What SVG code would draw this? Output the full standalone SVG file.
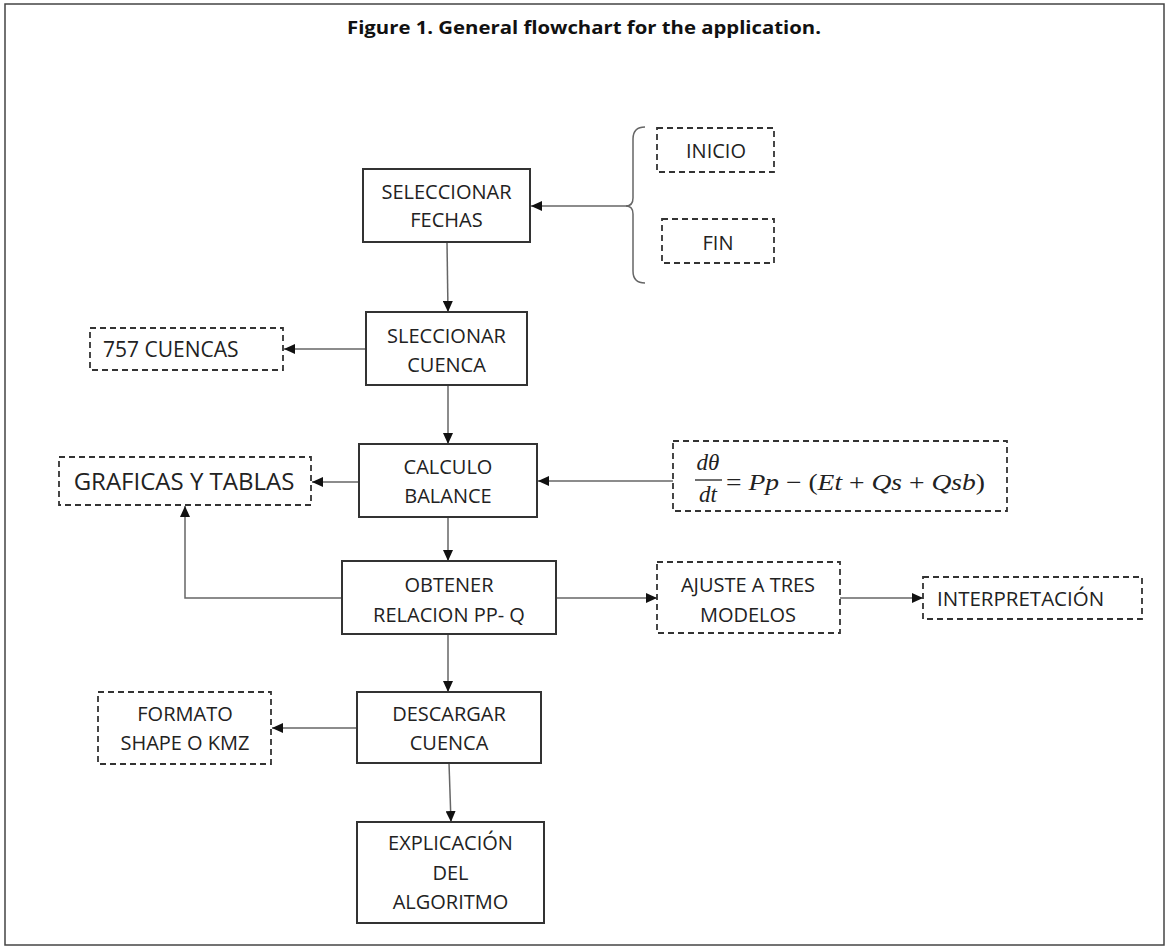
<svg xmlns="http://www.w3.org/2000/svg" width="1169" height="949" viewBox="0 0 1169 949">
<defs>
<marker id="arr" markerUnits="userSpaceOnUse" markerWidth="12" markerHeight="10" refX="11" refY="5" orient="auto">
<path d="M0,0 L11,5 L0,10 Z" fill="#111"/>
</marker>
<style>
.box{fill:#fff;stroke:#333;stroke-width:2}
.dbox{fill:#fff;stroke:#333;stroke-width:1.8;stroke-dasharray:6,4}
.t{font-family:"Open Sans","Liberation Sans",Arial,sans-serif;font-size:20px;fill:#222;text-anchor:middle}
.c{fill:none;stroke:#666;stroke-width:1.5}
.m{font-family:"Liberation Serif","Times New Roman",serif;font-size:23px;fill:#222;font-style:italic}
</style>
</defs>
<rect x="0" y="0" width="1169" height="949" fill="#fff"/>
<rect x="5" y="4" width="1159" height="941" fill="none" stroke="#444" stroke-width="1.5"/>
<text x="584" y="34" font-family="'Open Sans','Liberation Sans',Arial,sans-serif" font-size="17" font-weight="bold" fill="#111" text-anchor="middle" textLength="474" lengthAdjust="spacingAndGlyphs">Figure 1. General flowchart for the application.</text>

<g id="connectors">
<path class="c" d="M645,127 Q633,127 633,139 L633,198 Q633,206 626,206 Q633,206 633,214 L633,271 Q633,283 645,283"/>
<path class="c" d="M627,206 L531,206" marker-end="url(#arr)"/>
<path class="c" d="M447,242 L448,312" marker-end="url(#arr)"/>
<path class="c" d="M366,349 L284,349" marker-end="url(#arr)"/>
<path class="c" d="M448,385 L448,444" marker-end="url(#arr)"/>
<path class="c" d="M359,482 L312,482" marker-end="url(#arr)"/>
<path class="c" d="M673,481 L538,481" marker-end="url(#arr)"/>
<path class="c" d="M448,517 L448,561" marker-end="url(#arr)"/>
<path class="c" d="M342,598 L185,598 L185,506" marker-end="url(#arr)"/>
<path class="c" d="M556,598 L657,598" marker-end="url(#arr)"/>
<path class="c" d="M840,598 L923,598" marker-end="url(#arr)"/>
<path class="c" d="M448,634 L448,692" marker-end="url(#arr)"/>
<path class="c" d="M357,728 L272,728" marker-end="url(#arr)"/>
<path class="c" d="M449,763 L451,822" marker-end="url(#arr)"/>
</g>

<g id="n-fechas">
<rect class="box" x="363" y="169" width="167" height="73"/>
<text class="t" x="446.5" y="199">SELECCIONAR</text>
<text class="t" x="446.5" y="227">FECHAS</text>
</g>
<g id="n-inicio">
<rect class="dbox" x="657" y="128" width="117" height="44"/>
<text class="t" x="716" y="158">INICIO</text>
</g>
<g id="n-fin">
<rect class="dbox" x="662" y="219" width="112" height="44"/>
<text class="t" x="718" y="250">FIN</text>
</g>
<g id="n-cuenca">
<rect class="box" x="366" y="312" width="161" height="73"/>
<text class="t" x="446.5" y="343">SLECCIONAR</text>
<text class="t" x="446.5" y="372">CUENCA</text>
</g>
<g id="n-757">
<rect class="dbox" x="90" y="328" width="193" height="42"/>
<text class="t" x="103" y="357" style="text-anchor:start;font-size:21px">757 CUENCAS</text>
</g>
<g id="n-calculo">
<rect class="box" x="359" y="444" width="178" height="73"/>
<text class="t" x="448" y="474">CALCULO</text>
<text class="t" x="448" y="503">BALANCE</text>
</g>
<g id="n-graficas">
<rect class="dbox" x="59" y="457" width="252" height="48"/>
<text class="t" x="184" y="490" style="font-size:24px">GRAFICAS Y TABLAS</text>
</g>
<g id="n-formula">
<rect class="dbox" x="673" y="441" width="334" height="70"/>
<text class="m" x="708" y="470" text-anchor="middle">dθ</text>
<line x1="695" y1="480" x2="722" y2="480" stroke="#222" stroke-width="1.3"/>
<text class="m" x="708" y="502" text-anchor="middle">dt</text>
<text class="m" x="726" y="490" textLength="259" lengthAdjust="spacingAndGlyphs"><tspan font-style="normal">= </tspan>Pp<tspan font-style="normal"> − (</tspan>Et<tspan font-style="normal"> + </tspan>Qs<tspan font-style="normal"> + </tspan>Qsb<tspan font-style="normal">)</tspan></text>
</g>
<g id="n-obtener">
<rect class="box" x="342" y="561" width="214" height="73"/>
<text class="t" x="449" y="592">OBTENER</text>
<text class="t" x="449" y="622">RELACION PP- Q</text>
</g>
<g id="n-ajuste">
<rect class="dbox" x="657" y="562" width="183" height="71"/>
<text class="t" x="748" y="592">AJUSTE A TRES</text>
<text class="t" x="748" y="622">MODELOS</text>
</g>
<g id="n-interp">
<rect class="dbox" x="923" y="577" width="219" height="42"/>
<text class="t" x="937" y="606" style="text-anchor:start;font-size:20.5px">INTERPRETACIÓN</text>
</g>
<g id="n-descargar">
<rect class="box" x="357" y="692" width="184" height="71"/>
<text class="t" x="449" y="721">DESCARGAR</text>
<text class="t" x="449" y="750">CUENCA</text>
</g>
<g id="n-formato">
<rect class="dbox" x="98" y="692" width="173" height="72"/>
<text class="t" x="185" y="721">FORMATO</text>
<text class="t" x="185" y="750">SHAPE O KMZ</text>
</g>
<g id="n-explicacion">
<rect class="box" x="357" y="822" width="187" height="101"/>
<text class="t" x="450.5" y="850">EXPLICACIÓN</text>
<text class="t" x="450.5" y="880">DEL</text>
<text class="t" x="450.5" y="909">ALGORITMO</text>
</g>
</svg>
